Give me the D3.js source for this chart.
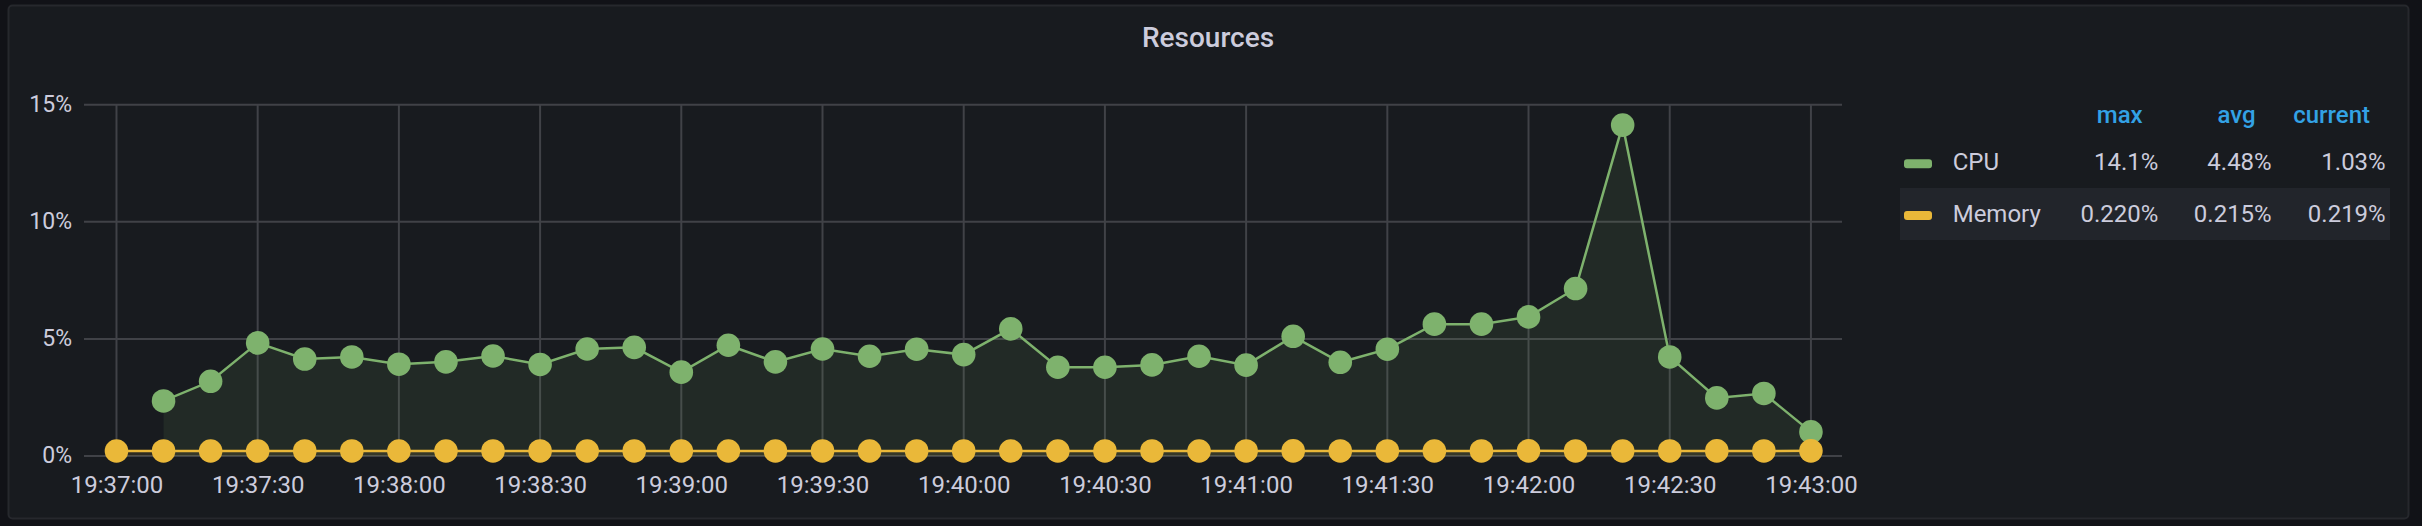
<!DOCTYPE html>
<html>
<head>
<meta charset="utf-8">
<script src="https://cdn.jsdelivr.net/npm/d3@7"></script>
<style>
  html, body { margin: 0; padding: 0; background: #111217; }
  svg { display: block; }
  text { font-family: Roboto, "Noto Sans", sans-serif; }
</style>
</head>
<body>
<svg id="chart" width="2422" height="526"></svg>
<script>
// ---------------- data ----------------
const title = "Resources";
const cpuTimes = ["19:37:10","19:37:20","19:37:30","19:37:40","19:37:50","19:38:00","19:38:10","19:38:20","19:38:30","19:38:40","19:38:50","19:39:00","19:39:10","19:39:20","19:39:30","19:39:40","19:39:50","19:40:00","19:40:10","19:40:20","19:40:30","19:40:40","19:40:50","19:41:00","19:41:10","19:41:20","19:41:30","19:41:40","19:41:50","19:42:00","19:42:10","19:42:20","19:42:30","19:42:40","19:42:50","19:43:00"];
const cpuValues = [2.35,3.19,4.83,4.14,4.23,3.92,4.02,4.27,3.91,4.57,4.64,3.58,4.73,4.02,4.57,4.26,4.56,4.33,5.43,3.79,3.79,3.89,4.26,3.88,5.11,4.00,4.56,5.63,5.63,5.94,7.15,14.13,4.23,2.48,2.67,1.03];
const memTimes = ["19:37:00","19:37:10","19:37:20","19:37:30","19:37:40","19:37:50","19:38:00","19:38:10","19:38:20","19:38:30","19:38:40","19:38:50","19:39:00","19:39:10","19:39:20","19:39:30","19:39:40","19:39:50","19:40:00","19:40:10","19:40:20","19:40:30","19:40:40","19:40:50","19:41:00","19:41:10","19:41:20","19:41:30","19:41:40","19:41:50","19:42:00","19:42:10","19:42:20","19:42:30","19:42:40","19:42:50","19:43:00"];
const memValues = [0.214,0.215,0.213,0.214,0.216,0.215,0.214,0.213,0.215,0.216,0.214,0.215,0.213,0.214,0.216,0.215,0.214,0.216,0.215,0.213,0.214,0.215,0.216,0.214,0.215,0.217,0.216,0.215,0.214,0.216,0.220,0.215,0.214,0.216,0.217,0.215,0.219];
const xTickLabels = ["19:37:00","19:37:30","19:38:00","19:38:30","19:39:00","19:39:30","19:40:00","19:40:30","19:41:00","19:41:30","19:42:00","19:42:30","19:43:00"];
const yTickValues = [0, 5, 10, 15];
const legendHeaders = ["max", "avg", "current"];
const seriesNames = ["CPU", "Memory"];
const seriesColors = ["#7eb26d", "#eab839"];
const cpuStats = ["14.1%", "4.48%", "1.03%"];
const memStats = ["0.220%", "0.215%", "0.219%"];

// ---------------- layout ----------------
const svg = d3.select("#chart");
const W = 2422, H = 526;
const plot = { left: 84, right: 1842, top: 104.7, bottom: 456 };
const textColor = "#ccccdc";

svg.append("rect").attr("width", W).attr("height", H).attr("fill", "#111217");
svg.append("rect")
  .attr("x", 8.5).attr("y", 5.5).attr("width", 2400).attr("height", 513)
  .attr("rx", 4).attr("fill", "#181b1f").attr("stroke", "#26282d").attr("stroke-width", 2);

svg.append("text")
  .attr("x", 1208).attr("y", 46.5)
  .attr("text-anchor", "middle")
  .attr("font-size", 28).attr("font-weight", 500)
  .attr("fill", textColor)
  .text(title);

const parse = d3.timeParse("%H:%M:%S");
const tStart = parse("19:37:00"), tEnd = parse("19:43:00");
const x = d3.scaleTime()
  .domain([new Date(tStart.getTime() - 6900), new Date(tEnd.getTime() + 6600)])
  .range([plot.left, plot.right]);
const y = d3.scaleLinear().domain([0, 15]).range([plot.bottom, plot.top]);

// grid
const gridColor = "#404247";
const g = svg.append("g");
g.selectAll("line.h").data(yTickValues).join("line")
  .attr("x1", plot.left).attr("x2", plot.right)
  .attr("y1", d => y(d)).attr("y2", d => y(d))
  .attr("stroke", gridColor).attr("stroke-width", 2);
g.selectAll("line.v").data(xTickLabels).join("line")
  .attr("x1", d => x(parse(d))).attr("x2", d => x(parse(d)))
  .attr("y1", plot.top).attr("y2", plot.bottom)
  .attr("stroke", gridColor).attr("stroke-width", 2);

// axes labels via d3 axes
const yAxis = d3.axisLeft(y).tickValues(yTickValues).tickFormat(d => d + "%").tickSize(0).tickPadding(12);
const ya = svg.append("g").attr("transform", `translate(${plot.left},0)`).call(yAxis);
ya.select(".domain").remove();
ya.selectAll("text").attr("font-size", 23).attr("fill", textColor).attr("font-family", "Roboto").attr("dy", "0.3em");

const xAxis = d3.axisBottom(x).tickValues(xTickLabels.map(parse)).tickFormat(d3.timeFormat("%H:%M:%S")).tickSize(0).tickPadding(20);
const xa = svg.append("g").attr("transform", `translate(0,${plot.bottom})`).call(xAxis);
xa.select(".domain").remove();
xa.selectAll("text").attr("font-size", 24).attr("fill", textColor).attr("font-family", "Roboto").attr("dy", "0.71em");

// series
const cpu = cpuTimes.map((t, i) => ({ t: parse(t), v: cpuValues[i] }));
const mem = memTimes.map((t, i) => ({ t: parse(t), v: memValues[i] }));
const area = d3.area().x(d => x(d.t)).y0(y(0)).y1(d => y(d.v));
const line = d3.line().x(d => x(d.t)).y(d => y(d.v));

[[cpu, seriesColors[0]], [mem, seriesColors[1]]].forEach(([data, col]) => {
  svg.append("path").datum(data).attr("d", area).attr("fill", col).attr("fill-opacity", 0.1);
});
[[cpu, seriesColors[0]], [mem, seriesColors[1]]].forEach(([data, col]) => {
  svg.append("path").datum(data).attr("d", line).attr("fill", "none").attr("stroke", col).attr("stroke-width", 2.5);
  svg.append("g").selectAll("circle").data(data).join("circle")
    .attr("cx", d => x(d.t)).attr("cy", d => y(d.v)).attr("r", 11.8).attr("fill", col);
});

// legend
const lg = svg.append("g");
const headerRight = [2142.7, 2255.7, 2370];
const valueRight = [2158.3, 2271.7, 2385.7];
lg.selectAll("text.hdr").data(legendHeaders).join("text")
  .attr("x", (d, i) => headerRight[i]).attr("y", 123.3)
  .attr("text-anchor", "end").attr("font-size", 24).attr("font-weight", 500)
  .attr("fill", "#33a2e5").text(d => d);

const rowsBase = [170, 221.7];
const stats = [cpuStats, memStats];
lg.append("rect").attr("x", 1900).attr("y", 188).attr("width", 490).attr("height", 52).attr("fill", "#22252b");
seriesNames.forEach((name, r) => {
  lg.append("rect").attr("x", 1904).attr("y", rowsBase[r] - 10.8).attr("width", 28).attr("height", 9)
    .attr("rx", 3).attr("fill", seriesColors[r]);
  lg.append("text").attr("x", 1952.7).attr("y", rowsBase[r])
    .attr("font-size", 24).attr("fill", textColor).text(name);
  lg.selectAll(null).data(stats[r]).join("text")
    .attr("x", (d, i) => valueRight[i]).attr("y", rowsBase[r])
    .attr("text-anchor", "end").attr("font-size", 24).attr("fill", textColor).text(d => d);
});
</script>
</body>
</html>
